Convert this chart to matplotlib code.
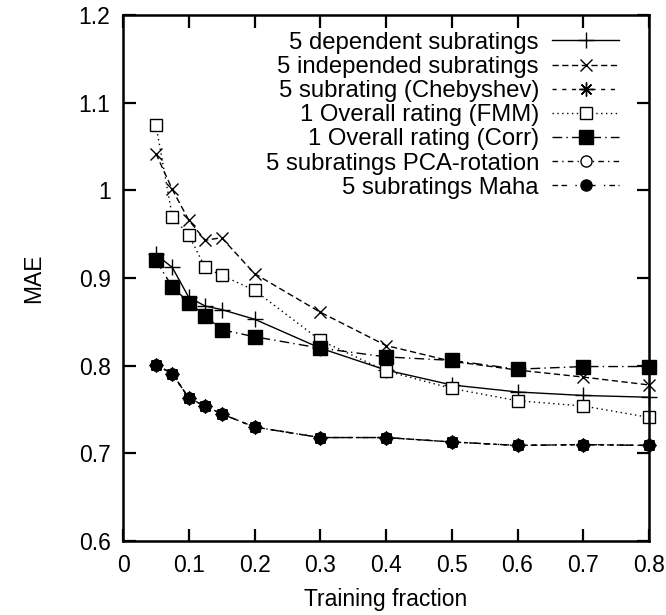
import matplotlib.pyplot as plt

plt.rcParams['font.family'] = ['Liberation Sans', 'DejaVu Sans']
plt.rcParams['font.size'] = 16.5

fraction = [0.05, 0.075, 0.1, 0.125, 0.15, 0.2, 0.3, 0.4, 0.5, 0.6, 0.7, 0.8]

dependent = [0.927, 0.912, 0.878, 0.868, 0.864, 0.853, 0.820, 0.795, 0.778, 0.770, 0.766, 0.764]
independent = [1.042, 1.001, 0.966, 0.943, 0.946, 0.905, 0.861, 0.823, 0.805, 0.795, 0.787, 0.778]
chebyshev = [0.801, 0.791, 0.763, 0.754, 0.745, 0.730, 0.718, 0.718, 0.713, 0.709, 0.710, 0.709]
fmm = [1.075, 0.970, 0.949, 0.912, 0.903, 0.886, 0.829, 0.794, 0.774, 0.760, 0.754, 0.741]
corr = [0.920, 0.890, 0.872, 0.857, 0.841, 0.833, 0.820, 0.810, 0.806, 0.796, 0.799, 0.799]
pca = [0.801, 0.791, 0.763, 0.754, 0.745, 0.730, 0.718, 0.718, 0.713, 0.709, 0.710, 0.709]
maha = [0.801, 0.791, 0.763, 0.754, 0.745, 0.730, 0.718, 0.718, 0.713, 0.709, 0.710, 0.709]

labels = [
    "5 dependent subratings",
    "5 independed subratings",
    "5 subrating (Chebyshev)",
    "1 Overall rating (FMM)",
    "1 Overall rating (Corr)",
    "5 subratings PCA-rotation",
    "5 subratings Maha",
]

xticks = [0, 0.1, 0.2, 0.3, 0.4, 0.5, 0.6, 0.7, 0.8]
xticklabels = ["0", "0.1", "0.2", "0.3", "0.4", "0.5", "0.6", "0.7", "0.8"]
yticks = [0.6, 0.7, 0.8, 0.9, 1.0, 1.1, 1.2]
yticklabels = ["0.6", "0.7", "0.8", "0.9", "1", "1.1", "1.2"]

fig = plt.figure(figsize=(6.66, 6.15), dpi=100)
ax = fig.add_axes([123 / 666, 74 / 615, 526 / 666, 526 / 615])

common = dict(color="black", lw=1.0, mew=1.0, clip_on=False)

ax.plot(fraction, dependent, ls="-", marker="+", ms=11, label=labels[0], **common)
ax.plot(fraction, independent, ls=(0, (4.5, 2.5)), marker="x", ms=9, label=labels[1], **common)
ax.plot(fraction, chebyshev, ls=(0, (3, 4)), marker=(8, 2, 0), ms=10, label=labels[2], **common)
ax.plot(fraction, fmm, ls=(0, (1, 2.5)), marker="s", ms=8.5, mfc="white", label=labels[3], **common)
ax.plot(fraction, corr, ls=(0, (7, 3, 1, 3)), marker="s", ms=9.5, label=labels[4], **common)
ax.plot(fraction, pca, ls=(0, (4, 3, 1, 3)), marker="o", ms=8, mfc="white", label=labels[5], **common)
ax.plot(fraction, maha, ls=(0, (4, 2.5, 4, 6, 1, 3)), marker="o", ms=8, label=labels[6], **common)

ax.set_xlim(0, 0.8)
ax.set_ylim(0.6, 1.2)
ax.set_xticks(xticks)
ax.set_xticklabels(xticklabels)
ax.set_yticks(yticks)
ax.set_yticklabels(yticklabels)
ax.tick_params(direction="in", length=9, width=1.6, top=True, right=True, pad=9)
for sp in ax.spines.values():
    sp.set_linewidth(1.8)

ax.set_xlabel("Training fraction", labelpad=8)
ax.set_ylabel("MAE", labelpad=24)

ax.legend(loc="upper right", bbox_to_anchor=(0.943, 0.968), markerfirst=False,
          alignment="right", frameon=False, borderpad=0, borderaxespad=0,
          handlelength=2.8, handletextpad=0.55, labelspacing=0.09, fontsize=17.2)

fig.savefig("out.png", dpi=100)
